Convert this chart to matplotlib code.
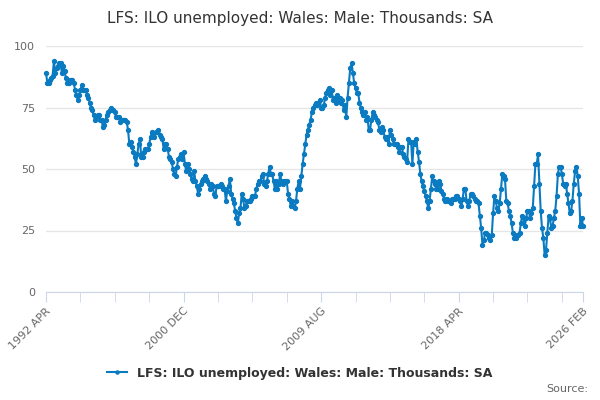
import pandas as pd
import matplotlib.pyplot as plt

# Monthly series, 1992 APR to 2026 FEB (thousands, seasonally adjusted)
start_month = "1992-04"
end_month = "2026-02"
values = [
    89, 85, 85, 86, 87, 88, 94, 89, 91, 92, 93, 93,
    89, 92, 90, 87, 85, 85, 86, 86, 86, 85, 82, 80,
    78, 80, 82, 84, 82, 82, 82, 80, 79, 77, 75, 74,
    72, 70, 71, 72, 72, 70, 70, 67, 68, 70, 72, 73,
    74, 75, 74, 74, 73, 71, 71, 71, 69, 70, 70, 70,
    70, 69, 66, 60, 61, 59, 57, 55, 52, 56, 60, 62,
    55, 55, 57, 58, 58, 58, 60, 63, 65, 64, 63, 65,
    65, 66, 64, 63, 62, 58, 60, 60, 58, 55, 54, 53,
    50, 48, 47, 51, 54, 55, 56, 54, 57, 52, 49, 52,
    50, 48, 46, 45, 49, 45, 43, 40, 42, 44, 45, 46,
    47, 46, 45, 44, 42, 44, 43, 40, 39, 43, 43, 43,
    44, 43, 42, 42, 37, 41, 43, 46, 40, 38, 36, 33,
    30, 28, 32, 34, 40, 38, 34, 35, 37, 37, 37, 38,
    39, 39, 39, 42, 44, 45, 45, 47, 48, 44, 43, 45,
    48, 51, 48, 48, 45, 42, 45, 42, 44, 48, 45, 44,
    45, 45, 45, 40, 38, 35, 37, 35, 34, 37, 42, 45,
    42, 47, 52, 56, 60, 64, 66, 68, 70, 73, 75, 76,
    77, 76, 77, 78, 75, 75, 76, 79, 81, 82, 83, 80,
    82, 78, 79, 77, 80, 78, 79, 77, 78, 74, 76, 71,
    79, 85, 91, 93, 89, 85, 83, 81, 81, 77, 75, 73,
    72, 73, 70, 71, 66, 66, 70, 73, 72, 71, 70, 69,
    66, 65, 67, 66, 63, 62, 63, 60, 66, 64, 62, 60,
    60, 60, 59, 57, 59, 59, 56, 55, 54, 53, 62, 61,
    61, 52, 61, 60, 62, 57, 53, 48, 45, 43, 41, 39,
    37, 34, 37, 42, 47, 45, 44, 42, 42, 45, 44, 41,
    40, 38, 37, 38, 37, 37, 36, 38, 38, 38, 39, 39,
    38, 37, 35, 38, 42, 42, 37, 35, 37, 40, 40, 39,
    38, 37, 37, 36, 31, 26, 19, 21, 24, 24, 23, 22,
    21, 23, 32, 39, 37, 34, 33, 36, 42, 48, 47, 46,
    37, 36, 33, 31, 28, 24, 22, 22, 23, 23, 24, 28,
    31, 30, 27, 30, 33, 33, 30, 32, 34, 43, 52, 52,
    56, 44, 33, 26, 22, 15, 17, 24, 31, 30, 26, 27,
    30, 33, 39, 48, 51, 51, 48, 44, 43, 44, 40, 36,
    32, 33, 37, 44, 49, 51, 47, 40, 27, 30, 27,
]
tick_labels = ["1992 APR", "2000 DEC", "2009 AUG", "2018 APR", "2026 FEB"]
y_ticks = [0, 25, 50, 75, 100]
series_name = "LFS: ILO unemployed: Wales: Male: Thousands: SA"

months = pd.period_range(start_month, end_month, freq="M")
labels = [f"{p.year} {p.strftime('%b').upper()}" for p in months]
x = list(range(len(months)))

line_color = "#0b7bc1"
axis_color = "#ccd6eb"
text_color = "#666666"

fig = plt.figure(figsize=(6, 4), dpi=100)
ax = fig.add_axes([0.0767, 0.27, 0.895, 0.615])

ax.plot(x, values[:len(x)], color=line_color, lw=1.5, marker="o", ms=2.8,
        label=series_name, clip_on=False, zorder=3)

ax.set_xlim(0, len(x) - 1)
ax.set_ylim(0, 100)
ax.set_yticks(y_ticks)
ax.grid(axis="y", color="#e6e6e6", lw=1)
ax.set_axisbelow(True)
for side in ["top", "right", "left"]:
    ax.spines[side].set_visible(False)
ax.spines["bottom"].set_color(axis_color)
ax.tick_params(axis="y", length=0, labelcolor=text_color, labelsize=8, pad=8)

# labelled ticks plus the unlabelled ones every 26 months
major = [labels.index(t) for t in tick_labels]
minor = [m for m in range(0, len(x), 26) if m not in major]
ax.set_xticks(major)
ax.set_xticklabels(tick_labels, rotation=45, ha="right", va="top",
                   rotation_mode="anchor", color=text_color, fontsize=8)
ax.set_xticks(minor, minor=True)
ax.tick_params(axis="x", which="both", length=7, color=axis_color, pad=3)

fig.suptitle(series_name, y=0.955, fontsize=11, color="#333333", va="center")
fig.legend(loc="center", bbox_to_anchor=(0.5, 0.067), frameon=False,
           prop={"weight": "bold", "size": 9}, handlelength=1.6,
           labelcolor="#333333", markerscale=0.8)
fig.text(0.98, 0.027, "Source:", ha="right", va="center", fontsize=8, color=text_color)

fig.savefig("out.png", dpi=100)
